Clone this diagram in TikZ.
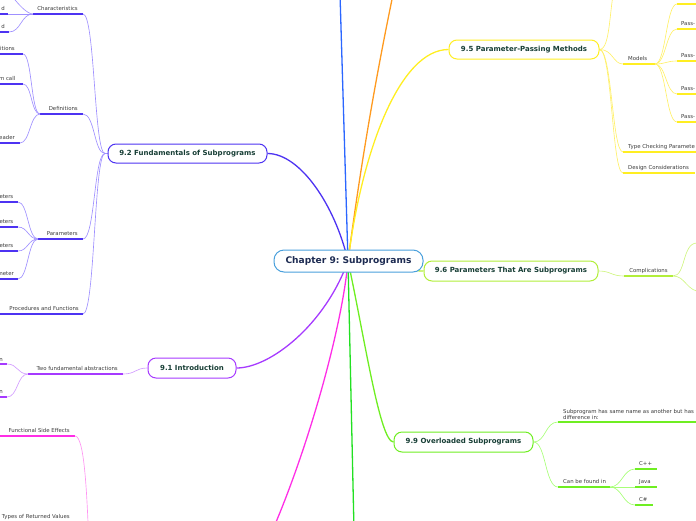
\documentclass[tikz,border=0pt]{standalone}
\usepackage{fontspec}
\setmainfont{DejaVu Sans}
\usetikzlibrary{backgrounds}
\frenchspacing
\definecolor{cCen}{HTML}{4AA0DC}
\definecolor{cTitle}{HTML}{1D2B52}
\definecolor{cBranch}{HTML}{173E35}
\definecolor{cLeaf}{HTML}{3C3C3C}
\definecolor{cA}{HTML}{4D33F2}   % 9.2
\definecolor{lA}{HTML}{9F90FF}
\definecolor{cB}{HTML}{A63AFF}   % 9.1
\definecolor{lB}{HTML}{D29CFF}
\definecolor{cY}{HTML}{FFEE22}   % 9.5
\definecolor{lY}{HTML}{FFF06A}
\definecolor{cL}{HTML}{B2EE3A}   % 9.6
\definecolor{lL}{HTML}{CFF580}
\definecolor{cG}{HTML}{6FEE22}   % 9.9
\definecolor{lG}{HTML}{A8FF78}
\definecolor{cBlue}{HTML}{2B66FF}
\definecolor{cOr}{HTML}{FF9A1F}
\definecolor{cMag}{HTML}{FF2EE6}
\definecolor{lMag}{HTML}{FF94F2}
\definecolor{cGr}{HTML}{22E022}
\begin{document}
\begin{tikzpicture}[x=1pt,y=-1pt,
  central/.style={draw=cCen, line width=1pt, rounded corners=10pt, fill=white,
    minimum width=149pt, minimum height=22pt, inner sep=0pt,
    font=\bfseries\fontsize{9.1}{10}\selectfont, text=cTitle},
  branch/.style={line width=1pt, rounded corners=8pt, fill=white,
    minimum height=19pt, inner sep=0pt,
    font=\bfseries\fontsize{7}{8}\selectfont, text=cBranch},
  leafL/.style={anchor=base east, inner sep=0pt, font=\fontsize{5.4}{6.2}\selectfont, text=cLeaf},
  leafR/.style={anchor=base west, inner sep=0pt, font=\fontsize{5.4}{6.2}\selectfont, text=cLeaf},
  ul/.style={line width=1.6pt},
  link/.style={line width=0.65pt},
  mainline/.style={line width=1.3pt},
]
\useasboundingbox (0,0) rectangle (696,520);

% ---------- main nodes ----------
\node[central] (cen) at (348.5,261) {Chapter 9: Subprograms};
\coordinate (hub) at (348,261);
\node[branch, draw=cA, minimum width=159pt] (n92) at (187.5,153.5) {9.2 Fundamentals of Subprograms};
\node[branch, draw=cB, minimum width=88pt, minimum height=20pt] (n91) at (192,368) {9.1 Introduction};
\node[branch, draw=cY, minimum width=150pt] (n95) at (524,49.5) {9.5 Parameter-Passing Methods};
\node[branch, draw=cL, minimum width=174pt, minimum height=20pt] (n96) at (511,271) {9.6 Parameters That Are Subprograms};
\node[branch, draw=cG, minimum width=139pt, minimum height=20pt] (n99) at (463.5,442) {9.9 Overloaded Subprograms};

% free ends of main connectors
\coordinate (topB) at (340,-6);
\coordinate (orT) at (395,-15);
\coordinate (magB) at (266,545);
\coordinate (grB) at (354,530);

% ---------- 9.2 labels ----------
\coordinate (h92) at (105,153.5);
\node[leafL] (lchar) at (78,10) {Characteristics};
\node[leafL] (ld1) at (5,10) {d};
\node[leafL] (ld2) at (5,28) {d};
\node[leafL] (ldef) at (78,110) {Definitions};
\node[leafL] (lit) at (15,50.5) {itions};
\node[leafL] (lmc) at (15.5,80) {m call};
\node[leafL] (lhe) at (15,139) {eader};
\node[leafL] (lpar) at (78,235) {Parameters};
\node[leafL] (lp1) at (13.5,198) {eters};
\node[leafL] (lp2) at (13.5,223) {eters};
\node[leafL] (lp3) at (13.5,247) {eters};
\node[leafL] (lp4) at (14,275) {meter};
\node[leafL] (lpro) at (79,310) {Procedures and Functions};

\coordinate (charA) at (33,14); \coordinate (charB) at (83,14);
\coordinate (d0B) at (12,-4);
\coordinate (d1A) at (-2,14); \coordinate (d1B) at (8,14);
\coordinate (d2A) at (-2,32); \coordinate (d2B) at (9,32);
\coordinate (defA) at (40,114); \coordinate (defB) at (83,114);
\coordinate (itA) at (-2,54); \coordinate (itB) at (23,54);
\coordinate (mcA) at (-2,84); \coordinate (mcB) at (23,84);
\coordinate (heA) at (-2,143); \coordinate (heB) at (20,143);
\coordinate (parA) at (38,239); \coordinate (parB) at (83,239);
\coordinate (p1A) at (-2,202); \coordinate (p1B) at (18,202);
\coordinate (p2A) at (-2,227); \coordinate (p2B) at (18,227);
\coordinate (p3A) at (-2,251); \coordinate (p3B) at (18,251);
\coordinate (p4A) at (-2,279); \coordinate (p4B) at (18,279);
\coordinate (proA) at (-2,314); \coordinate (proB) at (83,314);

% ---------- 9.1 and magenta labels ----------
\node[leafL] (ltfa) at (118,370) {Two fundamental abstractions};
\node[leafL] (ln1) at (3,361) {n};
\node[leafL] (ln2) at (3,393) {n};
\node[leafL] (lfse) at (70,432) {Functional Side Effects};
\node[leafL] (ltrv) at (70,518) {Types of Returned Values};
\coordinate (tfaA) at (28,374); \coordinate (tfaB) at (123,374);
\coordinate (n1A) at (-2,364); \coordinate (n1B) at (7,364);
\coordinate (n2A) at (-2,397); \coordinate (n2B) at (7,397);
\coordinate (fseA) at (-2,436); \coordinate (fseB) at (75,436);
\coordinate (fseE) at (89,545);

% ---------- 9.5 labels ----------
\node[leafR] (lmod) at (628,60) {Models};
\node[leafR] (lps1) at (681,25) {Pass-};
\node[leafR] (lps2) at (681,57) {Pass-};
\node[leafR] (lps3) at (681,90) {Pass-};
\node[leafR] (lps4) at (681,118) {Pass-};
\node[leafR] (ltc) at (628,148) {Type Checking Paramete};
\node[leafR] (ldc) at (628,169) {Design Considerations};
\coordinate (upE) at (616,-20);
\coordinate (modA) at (623,64); \coordinate (modB) at (655,64);
\coordinate (m1A) at (677,4);   \coordinate (m1B) at (700,4);
\coordinate (m2A) at (677,29);  \coordinate (m2B) at (700,29);
\coordinate (m3A) at (677,61);  \coordinate (m3B) at (700,61);
\coordinate (m4A) at (677,94);  \coordinate (m4B) at (700,94);
\coordinate (m5A) at (677,122); \coordinate (m5B) at (700,122);
\coordinate (tcA) at (623,152); \coordinate (tcB) at (700,152);
\coordinate (dcA) at (623,173); \coordinate (dcB) at (695,173);

% ---------- 9.6 labels ----------
\node[anchor=base, inner sep=0pt, font=\fontsize{5.4}{6.2}\selectfont, text=cLeaf] (lcom) at (648.5,272) {Complications};
\coordinate (comA) at (624,276); \coordinate (comB) at (673,276);
\coordinate (cu) at (697,243); \coordinate (cuE) at (705,243);
\coordinate (cl) at (703,292);

% ---------- 9.9 labels ----------
\node[anchor=south west, inner sep=0pt, align=left, font=\fontsize{5.4}{6.1}\selectfont, text=cLeaf] (lsp) at (563,420) {Subprogram has same name as another but has\\difference in:};
\node[leafR] (lcb) at (563,483) {Can be found in};
\node[leafR] (lcpp) at (639,465) {C++};
\node[leafR] (ljv) at (639,483) {Java};
\node[leafR] (lcs) at (639,501) {C\#};
\coordinate (spA) at (558,422); \coordinate (spB) at (700,422);
\coordinate (cbA) at (558,487); \coordinate (cbB) at (610,487);
\coordinate (cpA) at (635,469); \coordinate (cpB) at (657,469);
\coordinate (jvA) at (635,487); \coordinate (jvB) at (657,487);
\coordinate (csA) at (635,505); \coordinate (csB) at (653,505);

\begin{scope}[on background layer]
% main connectors
\draw[mainline, cBlue] (hub) -- (topB);
\draw[mainline, cOr] (hub) .. controls (360,170) and (375,80) .. (orT);
\draw[mainline, cY] (hub) .. controls (362,150) and (400,49.5) .. (n95.west);
\draw[mainline, cA] (hub) .. controls (335,205) and (300,153.5) .. (n92.east);
\draw[mainline, cL] (hub) .. controls (400,261) and (400,271) .. (n96.west);
\draw[mainline, cB] (hub) .. controls (325,325) and (270,368) .. (n91.east);
\draw[mainline, cMag] (hub) .. controls (342,330) and (305,460) .. (magB);
\draw[mainline, cGr] (hub) -- (grB);
\draw[mainline, cG] (hub) .. controls (365,340) and (380,442) .. (n99.west);

% 9.2 branch
\draw[link, lA] (h92) -- (n92.west);
\draw[ul, cA] (charA) -- (charB);
\draw[link, lA] (charB) .. controls (95,14) and (94,153.5) .. (h92);
\draw[link, lA] (charA) .. controls (27,14) and (18,4) .. (d0B);
\draw[ul, cA] (d1A) -- (d1B);
\draw[link, lA] (d1B) -- (charA);
\draw[ul, cA] (d2A) -- (d2B);
\draw[link, lA] (d2B) .. controls (21,32) and (21,14) .. (charA);
\draw[ul, cA] (defA) -- (defB);
\draw[link, lA] (defB) .. controls (95,114) and (94,153.5) .. (h92);
\draw[ul, cA] (itA) -- (itB);
\draw[link, lA] (itB) .. controls (32,54) and (31,114) .. (defA);
\draw[ul, cA] (mcA) -- (mcB);
\draw[link, lA] (mcB) .. controls (32,84) and (31,114) .. (defA);
\draw[ul, cA] (heA) -- (heB);
\draw[link, lA] (heB) .. controls (30,143) and (30,114) .. (defA);
\draw[ul, cA] (parA) -- (parB);
\draw[link, lA] (parB) .. controls (95,239) and (94,153.5) .. (h92);
\draw[ul, cA] (p1A) -- (p1B);
\draw[link, lA] (p1B) .. controls (28,202) and (28,239) .. (parA);
\draw[ul, cA] (p2A) -- (p2B);
\draw[link, lA] (p2B) .. controls (28,227) and (28,239) .. (parA);
\draw[ul, cA] (p3A) -- (p3B);
\draw[link, lA] (p3B) .. controls (28,251) and (28,239) .. (parA);
\draw[ul, cA] (p4A) -- (p4B);
\draw[link, lA] (p4B) .. controls (28,279) and (28,239) .. (parA);
\draw[ul, cA] (proA) -- (proB);
\draw[link, lA] (proB) .. controls (95,314) and (94,153.5) .. (h92);

% 9.1 branch
\draw[ul, cB] (tfaA) -- (tfaB);
\draw[link, lB] (tfaB) .. controls (136,374) and (135,368) .. (n91.west);
\draw[ul, cB] (n1A) -- (n1B);
\draw[link, lB] (n1B) .. controls (18,364) and (17,374) .. (tfaA);
\draw[ul, cB] (n2A) -- (n2B);
\draw[link, lB] (n2B) .. controls (18,397) and (17,374) .. (tfaA);

% magenta branch
\draw[ul, cMag] (fseA) -- (fseB);
\draw[link, lMag] (fseB) .. controls (85,436) and (87,500) .. (fseE);

% 9.5 branch
\draw[link, lY] (n95.east) .. controls (611,49.5) and (609,5) .. (upE);
\draw[ul, cY] (modA) -- (modB);
\draw[link, lY] (n95.east) .. controls (613,49.5) and (613,64) .. (modA);
\draw[ul, cY] (m1A) -- (m1B);
\draw[link, lY] (modB) .. controls (666,64) and (666,4) .. (m1A);
\draw[ul, cY] (m2A) -- (m2B);
\draw[link, lY] (modB) .. controls (666,64) and (666,29) .. (m2A);
\draw[ul, cY] (m3A) -- (m3B);
\draw[link, lY] (modB) .. controls (666,64) and (666,61) .. (m3A);
\draw[ul, cY] (m4A) -- (m4B);
\draw[link, lY] (modB) .. controls (666,64) and (666,94) .. (m4A);
\draw[ul, cY] (m5A) -- (m5B);
\draw[link, lY] (modB) .. controls (666,64) and (666,122) .. (m5A);
\draw[ul, cY] (tcA) -- (tcB);
\draw[link, lY] (n95.east) .. controls (612,49.5) and (612,152) .. (tcA);
\draw[ul, cY] (dcA) -- (dcB);
\draw[link, lY] (n95.east) .. controls (612,49.5) and (612,173) .. (dcA);

% 9.6 branch
\draw[ul, cL] (comA) -- (comB);
\draw[link, lL] (n96.east) .. controls (611,271) and (611,276) .. (comA);
\draw[link, lL] (comB) .. controls (686,276) and (682,243) .. (cu) -- (cuE);
\draw[link, lL] (comB) .. controls (686,276) and (686,292) .. (cl);

% 9.9 branch
\draw[ul, cG] (spA) -- (spB);
\draw[link, lG] (n99.east) .. controls (546,442) and (545,422) .. (spA);
\draw[ul, cG] (cbA) -- (cbB);
\draw[link, lG] (n99.east) .. controls (546,442) and (545,487) .. (cbA);
\draw[ul, cG] (cpA) -- (cpB);
\draw[link, lG] (cbB) .. controls (622,487) and (623,469) .. (cpA);
\draw[ul, cG] (jvA) -- (jvB);
\draw[link, lG] (cbB) -- (jvA);
\draw[ul, cG] (csA) -- (csB);
\draw[link, lG] (cbB) .. controls (622,487) and (623,505) .. (csA);
\end{scope}
\end{tikzpicture}
\end{document}
